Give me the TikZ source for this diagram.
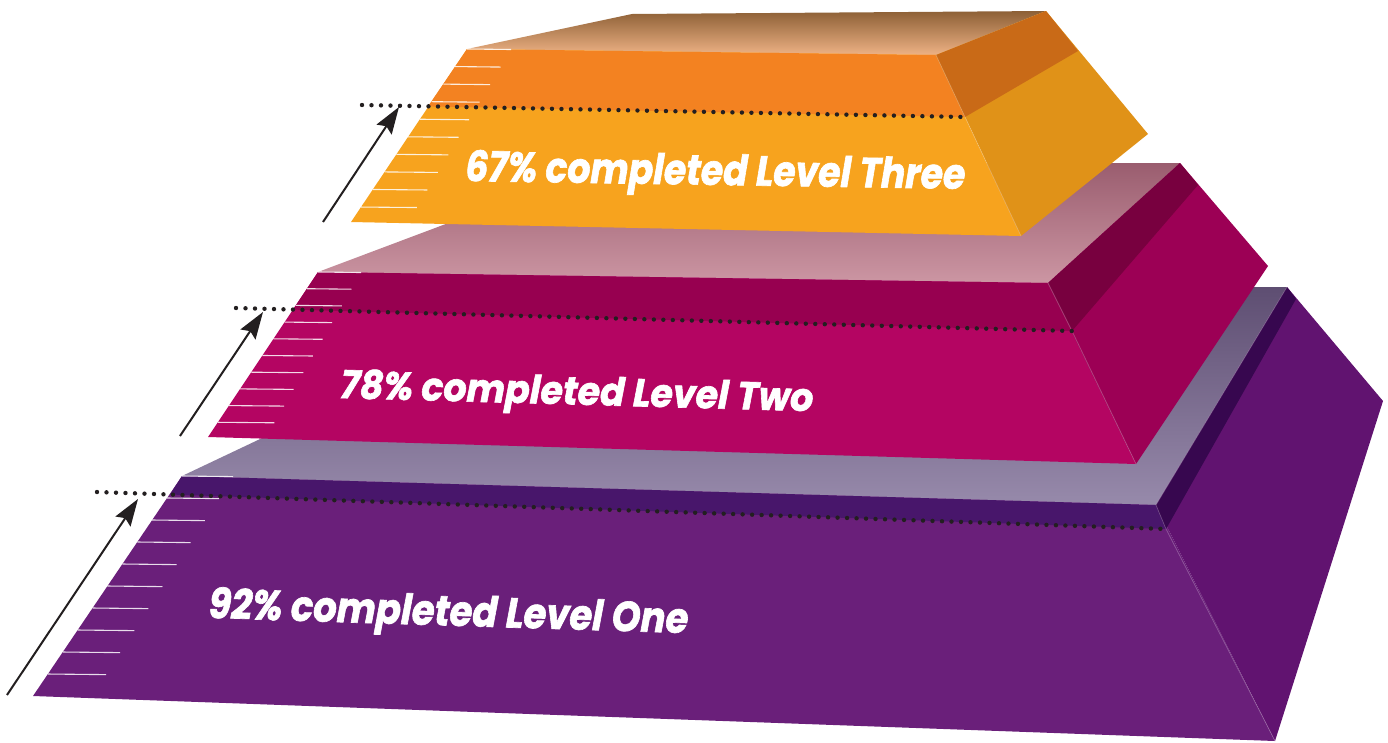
\documentclass[tikz,border=0pt]{standalone}
\usepackage{fontspec}
\usepackage{graphicx}
\newfontfamily\poppins{Poppins}[BoldItalicFeatures={FakeBold=1.6}]
\usetikzlibrary{arrows.meta,calc}
\definecolor{dotc}{HTML}{231F20}
% level one (purple)
\definecolor{tOa}{HTML}{5E4E72}\definecolor{tOb}{HTML}{978AAB}
\definecolor{fOhi}{HTML}{48166B}\definecolor{fOlo}{HTML}{6A1F7A}
\definecolor{rOhi}{HTML}{37074F}\definecolor{rOlo}{HTML}{611370}
% level two (magenta)
\definecolor{tTa}{HTML}{9A5D6F}\definecolor{tTb}{HTML}{CC96A3}
\definecolor{fThi}{HTML}{970050}\definecolor{fTlo}{HTML}{B40562}
\definecolor{rThi}{HTML}{78003F}\definecolor{rTlo}{HTML}{9C0055}
% level three (orange)
\definecolor{tHa}{HTML}{8D6036}\definecolor{tHb}{HTML}{EEB285}
\definecolor{fHhi}{HTML}{F38221}\definecolor{fHlo}{HTML}{F7A31E}
\definecolor{rHhi}{HTML}{C96A17}\definecolor{rHlo}{HTML}{E09218}
\newlength\tlen
\newcommand\fitto[2]{\settowidth\tlen{#2}\pgfmathsetmacro\tfac{#1/\tlen}\scalebox{\tfac}[1]{#2}}
\begin{document}
\begin{tikzpicture}[x=1pt,y=-1pt,
  dots/.style={draw=dotc,line width=4.4pt,dash pattern=on 0pt off 9.5pt,line cap=round},
  arr/.style={draw=dotc,line width=2pt,-{Stealth[length=27pt,width=18pt,inset=4pt]}},
  tick/.style={draw=white,line width=1.1pt,opacity=0.85},
  edge/.style={draw=white,line width=0.7pt,opacity=0.25},
  lbl/.style={text=white,inner sep=0pt,anchor=base west}]
\useasboundingbox (0,0) rectangle (1388,742);
% ---------- Level One ----------
\coordinate (Otl) at (182,476); \coordinate (Otr) at (1156,505);
\coordinate (Obr) at (1275,741); \coordinate (Obl) at (33,696);
\coordinate (Obk) at (581,287); \coordinate (Obkr) at (1287,287);
\coordinate (Orr) at (1383,401); \coordinate (Orm) at (1296,299);
\coordinate (Odl) at (97,492); \coordinate (Odr) at (1166,529);
\coordinate (Odm) at (170,494.5);
\shade[top color=tOa,bottom color=tOb] (Otl)--(Obk)--(Obkr)--(Otr)--cycle;
\fill[fOlo] (Otl)--(Otr)--(Obr)--(Obl)--cycle;
\fill[fOhi] (Otl)--(Otr)--(Odr)--(Odm)--cycle;
\fill[rOlo] (Otr)--(Obkr)--(Orr)--(Obr)--cycle;
\fill[rOhi] (Otr)--(Obkr)--(Orm)--(Odr)--cycle;
\draw[edge] (Obkr)--(Otr)--(Odr)--(Obr);
\foreach \k in {0,...,9}{\pgfmathsetmacro\t{\k*0.1}\pgfmathsetmacro\len{51+8*\t}
  \draw[tick] ($(Otl)!\t!(Obl)$) -- ++(\len,0.6);}
% ---------- Level Two ----------
\coordinate (Ttl) at (318,272); \coordinate (Ttr) at (1048,283);
\coordinate (Tbr) at (1136,464); \coordinate (Tbl) at (208,437);
\coordinate (Tbk) at (608,163); \coordinate (Tbkr) at (1180,163);
\coordinate (Trr) at (1268,266); \coordinate (Trm) at (1198,185);
\coordinate (Tdl) at (236,308); \coordinate (Tdr) at (1072,331);
\coordinate (Tdm) at (293,309.6);
\shade[top color=tTa,bottom color=tTb] (Ttl)--(Tbk)--(Tbkr)--(Ttr)--cycle;
\fill[fTlo] (Ttl)--(Ttr)--(Tbr)--(Tbl)--cycle;
\fill[fThi] (Ttl)--(Ttr)--(Tdr)--(Tdm)--cycle;
\fill[rTlo] (Ttr)--(Tbkr)--(Trr)--(Tbr)--cycle;
\fill[rThi] (Ttr)--(Tbkr)--(Trm)--(Tdr)--cycle;
\draw[edge] (Ttr)--(Tdr)--(Tbr);
\foreach \k in {0,...,9}{\pgfmathsetmacro\t{\k*0.1012}\pgfmathsetmacro\len{43+15*\t}
  \draw[tick] ($(Ttl)!\t!(Tbl)$) -- ++(\len,0.5);}
% ---------- Level Three ----------
\coordinate (Htl) at (467,49); \coordinate (Htr) at (936,55);
\coordinate (Hbr) at (1021,236); \coordinate (Hbl) at (351,222);
\coordinate (Hbk) at (632,14); \coordinate (Hbkr) at (1046,11);
\coordinate (Hrr) at (1148,134); \coordinate (Hrm) at (1078,51);
\coordinate (Hdl) at (362,105); \coordinate (Hdr) at (965,117);
\coordinate (Hdm) at (428,106.4);
\shade[top color=tHa,middle color=tHa,bottom color=tHb] (Htl)--(Hbk)--(Hbkr)--(Htr)--cycle;
\fill[fHlo] (Htl)--(Htr)--(Hbr)--(Hbl)--cycle;
\fill[fHhi] (Htl)--(Htr)--(Hdr)--(Hdm)--cycle;
\fill[rHlo] (Htr)--(Hbkr)--(Hrr)--(Hbr)--cycle;
\fill[rHhi] (Htr)--(Hbkr)--(Hrm)--(Hdr)--cycle;
\draw[edge] (Htr)--(Hdr)--(Hbr);
\foreach \k in {0,...,9}{\pgfmathsetmacro\t{\k*0.1015}\pgfmathsetmacro\len{44+13*\t}
  \draw[tick] ($(Htl)!\t!(Hbl)$) -- ++(\len,0.5);}
% ---------- dotted level lines ----------
\draw[dots] (Odl) -- (Odr);
\draw[dots] (Tdl) -- (Tdr);
\draw[dots] (Hdl) -- (Hdr);
% ---------- arrows ----------
\coordinate (Oa) at (7,695); \coordinate (Ob) at (138,499);
\coordinate (Ta) at (180,436); \coordinate (Tb) at (263,312);
\coordinate (Ha) at (323,222); \coordinate (Hb) at (399,107);
\draw[arr] (Oa) -- (Ob);
\draw[arr] (Ta) -- (Tb);
\draw[arr] (Ha) -- (Hb);
% ---------- labels ----------
\node[lbl,font=\fontsize{42}{42}\selectfont\poppins\bfseries\itshape,rotate=-0.9] (l3) at (465,181) {\fitto{500}{67\% completed Level Three}};
\node[lbl,font=\fontsize{39}{39}\selectfont\poppins\bfseries\itshape,rotate=-1.6] (l2) at (340,398) {\fitto{473}{78\% completed Level Two}};
\node[lbl,font=\fontsize{42}{42}\selectfont\poppins\bfseries\itshape,rotate=-1.8] (l1) at (208,618) {\fitto{480}{92\% completed Level One}};
\end{tikzpicture}
\end{document}
